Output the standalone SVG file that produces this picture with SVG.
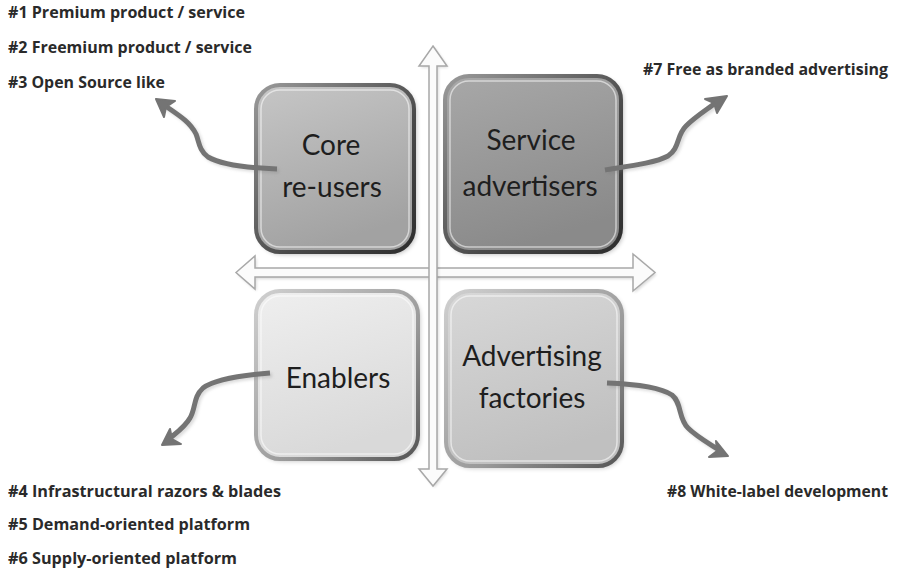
<svg xmlns="http://www.w3.org/2000/svg" width="897" height="571" viewBox="0 0 897 571">
<style>
.lbl{font-family:"Open Sans","Liberation Sans",sans-serif;font-weight:bold;font-size:15.5px;fill:#2a2a2a}
.bt{font-family:Lato,"Open Sans","Liberation Sans",sans-serif;font-size:28px;fill:#1e1e1e;text-anchor:middle}
.axis{fill:#fbfbfb;stroke:#a8a8a8;stroke-width:1.5;stroke-linejoin:miter}
.curve{fill:none;stroke:#747474;stroke-width:5;stroke-linecap:butt;stroke-linejoin:round}
.head{fill:#747474;stroke:#747474;stroke-width:2;stroke-linejoin:round}
.rimIn{fill:none;stroke:#ffffff;stroke-opacity:0.55;stroke-width:1.5}
</style>
<defs>
<linearGradient id="gTL" x1="0" y1="0" x2="0.3" y2="1"><stop offset="0" stop-color="#c6c6c6"/><stop offset="1" stop-color="#a2a2a2"/></linearGradient>
<linearGradient id="gTR" x1="0" y1="0" x2="0.3" y2="1"><stop offset="0" stop-color="#a8a8a8"/><stop offset="1" stop-color="#8a8a8a"/></linearGradient>
<linearGradient id="gBL" x1="0" y1="0" x2="0.3" y2="1"><stop offset="0" stop-color="#efefef"/><stop offset="1" stop-color="#d9d9d9"/></linearGradient>
<linearGradient id="gBR" x1="0" y1="0" x2="0.3" y2="1"><stop offset="0" stop-color="#d8d8d8"/><stop offset="1" stop-color="#c0c0c0"/></linearGradient>
<linearGradient id="rimDark" x1="0" y1="0" x2="1" y2="1"><stop offset="0" stop-color="#9a9a9a"/><stop offset="0.6" stop-color="#4a4a4a"/><stop offset="1" stop-color="#2e2e2e"/></linearGradient>
<linearGradient id="rimLight" x1="0" y1="0" x2="1" y2="1"><stop offset="0" stop-color="#d0d0d0"/><stop offset="0.6" stop-color="#9a9a9a"/><stop offset="1" stop-color="#555555"/></linearGradient>
<filter id="sh" x="-20%" y="-20%" width="140%" height="140%"><feGaussianBlur stdDeviation="2.5"/></filter>
<filter id="sh2" x="-20%" y="-20%" width="140%" height="140%"><feGaussianBlur stdDeviation="1.5"/></filter>
</defs>
<rect width="897" height="571" fill="#ffffff"/>

<g id="labels">
<text class="lbl" x="8" y="18" textLength="237" lengthAdjust="spacingAndGlyphs">#1 Premium product / service</text>
<text class="lbl" x="8" y="53" textLength="244" lengthAdjust="spacingAndGlyphs">#2 Freemium product / service</text>
<text class="lbl" x="8" y="88" textLength="157" lengthAdjust="spacingAndGlyphs">#3 Open Source like</text>
<text class="lbl" x="643" y="75" textLength="245" lengthAdjust="spacingAndGlyphs">#7 Free as branded advertising</text>
<text class="lbl" x="8" y="497" textLength="273" lengthAdjust="spacingAndGlyphs">#4 Infrastructural razors &amp; blades</text>
<text class="lbl" x="8" y="530" textLength="242" lengthAdjust="spacingAndGlyphs">#5 Demand-oriented platform</text>
<text class="lbl" x="8" y="564" textLength="229" lengthAdjust="spacingAndGlyphs">#6 Supply-oriented platform</text>
<text class="lbl" x="667" y="497" textLength="221" lengthAdjust="spacingAndGlyphs">#8 White-label development</text>
</g>

<g id="axes">
<path d="M236 272.5 L255 256 L255 268 L633 268 L633 254 L655 272.5 L633 291 L633 277 L255 277 L255 289 Z" fill="#000" opacity="0.15" filter="url(#sh2)" transform="translate(1.5,2)"/>
<path class="axis" d="M236 272.5 L255 256 L255 268 L633 268 L633 254 L655 272.5 L633 291 L633 277 L255 277 L255 289 Z"/>
<path d="M433 46 L447 66 L437 66 L437 469 L447 469 L433 486 L419 469 L429 469 L429 66 L419 66 Z" fill="#000" opacity="0.15" filter="url(#sh2)" transform="translate(1.5,1.5)"/>
<path class="axis" d="M433 46 L447 66 L437 66 L437 469 L447 469 L433 486 L419 469 L429 469 L429 66 L419 66 Z"/>
</g>

<g id="node-core">
<rect x="258" y="87" width="158" height="167" rx="24" fill="#000" opacity="0.3" filter="url(#sh)"/>
<rect x="256" y="85" width="158" height="167" rx="24" fill="url(#gTL)" stroke="url(#rimDark)" stroke-width="4"/>
<rect x="261" y="90" width="148" height="157" rx="19" class="rimIn"/>
<text class="bt" x="331" y="155">Core</text>
<text class="bt" x="332" y="197">re-users</text>
</g>

<g id="node-service">
<rect x="447" y="78" width="176" height="176" rx="24" fill="#000" opacity="0.3" filter="url(#sh)"/>
<rect x="445" y="76" width="176" height="176" rx="24" fill="url(#gTR)" stroke="url(#rimDark)" stroke-width="4"/>
<rect x="450" y="81" width="166" height="166" rx="19" class="rimIn"/>
<text class="bt" x="531" y="150">Service</text>
<text class="bt" x="530" y="196">advertisers</text>
</g>

<g id="node-enablers">
<rect x="258" y="293" width="162" height="168" rx="24" fill="#000" opacity="0.25" filter="url(#sh)"/>
<rect x="256" y="291" width="162" height="168" rx="24" fill="url(#gBL)" stroke="url(#rimLight)" stroke-width="4"/>
<rect x="261" y="296" width="152" height="158" rx="19" class="rimIn"/>
<text class="bt" x="338" y="388">Enablers</text>
</g>

<g id="node-factories">
<rect x="448" y="293" width="176" height="175" rx="24" fill="#000" opacity="0.25" filter="url(#sh)"/>
<rect x="446" y="291" width="176" height="175" rx="24" fill="url(#gBR)" stroke="url(#rimLight)" stroke-width="4"/>
<rect x="451" y="296" width="166" height="165" rx="19" class="rimIn"/>
<text class="bt" x="532" y="366">Advertising</text>
<text class="bt" x="532" y="408">factories</text>
</g>

<g id="connectors">
<g opacity="0.25" filter="url(#sh2)" transform="translate(2,2)">
<path class="curve" d="M277 169 C250 168 222 165 208 157 C199 151 199 141 196 134 C190 122 180 116 164 105"/>
<path class="curve" d="M605 170 C630 166 655 163 668 156 C680 148 676 136 686 126 C696 116 708 109 718 101"/>
<path class="curve" d="M270 373 C245 375 215 379 203 388 C193 397 196 408 190 418 C185 427 176 433 169 439"/>
<path class="curve" d="M607 383 C635 384 660 387 672 395 C682 403 678 418 688 428 C697 437 710 444 719 450"/>
</g>
<path class="curve" d="M277 169 C250 168 222 165 208 157 C199 151 199 141 196 134 C190 122 180 116 164 105"/>
<path class="head" d="M156 99 L175 101 L166 107 L164 117 Z"/>
<path class="curve" d="M605 170 C630 166 655 163 668 156 C680 148 676 136 686 126 C696 116 708 109 718 101"/>
<path class="head" d="M727 96 L717 113 L714 103 L705 99 Z"/>
<path class="curve" d="M270 373 C245 375 215 379 203 388 C193 397 196 408 190 418 C185 427 176 433 169 439"/>
<path class="head" d="M162 445 L170 429 L172 439 L181 444 Z"/>
<path class="curve" d="M607 383 C635 384 660 387 672 395 C682 403 678 418 688 428 C697 437 710 444 719 450"/>
<path class="head" d="M728 456 L709 457 L717 451 L716 441 Z"/>
</g>
</svg>
